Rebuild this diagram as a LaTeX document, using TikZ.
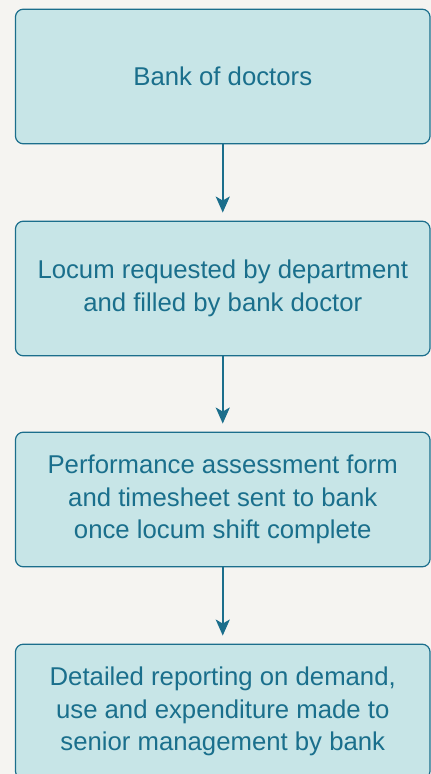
\documentclass[tikz,border=0pt]{standalone}
\usepackage{fontspec}
\setmainfont{Liberation Sans}
\usetikzlibrary{arrows.meta}

\definecolor{pagebg}{HTML}{F5F4F1}
\definecolor{boxfill}{HTML}{C7E5E7}
\definecolor{boxline}{HTML}{1B6E8C}
\definecolor{boxtext}{HTML}{1A6F8C}

\tikzset{
  stepbox/.style={draw=boxline, fill=boxfill, line width=0.9pt, rounded corners=6pt,
    minimum width=311pt, minimum height=101pt, align=center, text=boxtext,
    font=\fontsize{19.3}{24.5}\selectfont},
  flow/.style={draw=boxline, line width=1.6pt, shorten >=6pt,
    -{Stealth[length=12pt,width=10.5pt,inset=3pt]}}
}

\begin{document}
\begin{tikzpicture}[x=0.75pt, y=-0.75pt]

  % Bounding box of the scheme
  \fill[pagebg] (0,0) rectangle (431,774) ;
  \useasboundingbox (0,0) rectangle (431,774) ;

  %%%%%%%%%%%%%%%%%%%%%%%%%%%%%%%%% Boites %%%%%%%%%%%%%%%%%%%%%%%%%%%%%%%%%%%%
  \draw (222.75,76.5) node[stepbox] (1) {Bank of doctors} ;
  \draw (222.75,288.5) node[stepbox] (2) {Locum requested by department\\and filled by bank doctor} ;
  \draw (222.75,499.5) node[stepbox] (3) {Performance assessment form\\and timesheet sent to bank\\once locum shift complete} ;
  \draw (222.75,711.5) node[stepbox] (4) {Detailed reporting on demand,\\use and expenditure made to\\senior management by bank} ;

  %%%%%%%%%%%%%%%%%%%%%%%%%%%%%%%%% Fleches %%%%%%%%%%%%%%%%%%%%%%%%%%%%%%%%%%%%
  \foreach \i/\j in {1/2,2/3,3/4} {
    \draw[flow] (\i.south) -- (\j.north) ;
  }

\end{tikzpicture}
\end{document}
